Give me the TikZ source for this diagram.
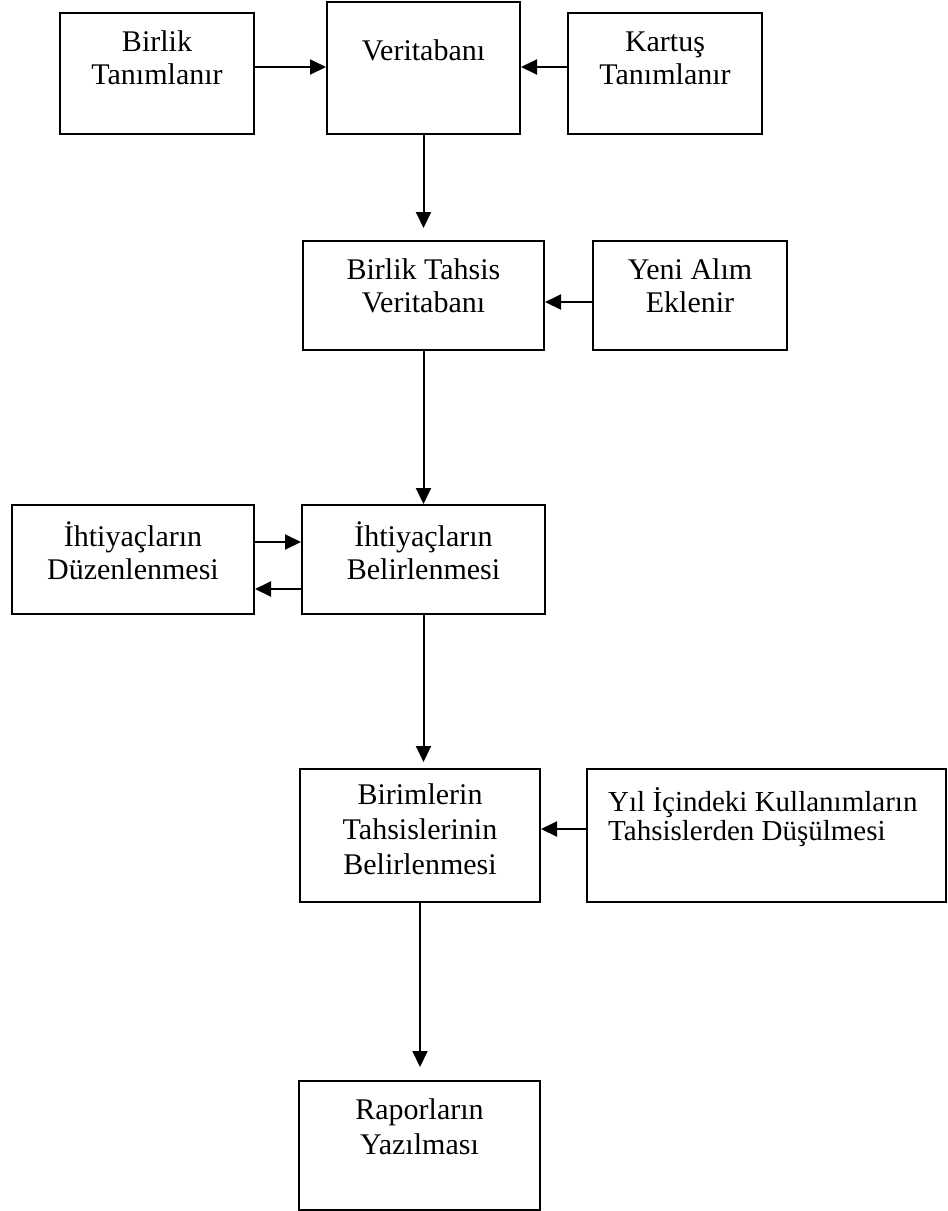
\documentclass[tikz,border=0pt]{standalone}
\usepackage{fontspec}
\setmainfont{Liberation Serif}
\usetikzlibrary{arrows.meta,calc}
\begin{document}
\begin{tikzpicture}[x=1pt,y=-1pt,
  box/.style={draw, line width=2pt, inner sep=0pt},
  lbl/.style={font=\fontsize{30}{33}\selectfont, align=center, inner sep=0pt},
  arr/.style={line width=2pt, -{Triangle[length=16pt,width=15pt]}}]
\useasboundingbox (0,0) rectangle (948,1211);
% boxes
\node[box, minimum width=194pt, minimum height=121pt] (b1) at (157,73.5) {};
\node[box, minimum width=193pt, minimum height=132pt] (b2) at (423.5,68) {};
\node[box, minimum width=194pt, minimum height=121pt] (b3) at (665,73.5) {};
\node[box, minimum width=241pt, minimum height=109pt] (b4) at (423.5,295.5) {};
\node[box, minimum width=194pt, minimum height=109pt] (b5) at (690,295.5) {};
\node[box, minimum width=242pt, minimum height=109pt] (b6) at (133,559.5) {};
\node[box, minimum width=243pt, minimum height=109pt] (b7) at (423.5,559.5) {};
\node[box, minimum width=240pt, minimum height=133pt] (b8) at (420,835.5) {};
\node[box, minimum width=359pt, minimum height=133pt] (b9) at (766.5,835.5) {};
\node[box, minimum width=241pt, minimum height=129pt] (b10) at (419.5,1145.5) {};
% texts
\node[lbl] (t1) at (157,58) {Birlik\\Tanımlanır};
\node[lbl] (t2) at (423.5,50) {Veritabanı};
\node[lbl] (t3) at (665,58) {Kartuş\\Tanımlanır};
\node[lbl] (t4) at (423.5,286) {Birlik Tahsis\\Veritabanı};
\node[lbl] (t5) at (690,286) {Yeni Alım\\Eklenir};
\node[lbl] (t6) at (133,551) {İhtiyaçların\\Düzenlenmesi};
\node[lbl] (t7) at (423.5,551) {İhtiyaçların\\Belirlenmesi};
\node[lbl, font=\fontsize{30}{35}\selectfont] (t8) at (420,829) {Birimlerin\\Tahsislerinin\\Belirlenmesi};
\node[lbl, font=\fontsize{29}{29}\selectfont, align=left, anchor=west] (t9) at (608,817) {Yıl İçindeki Kullanımların\\Tahsislerden Düşülmesi};
\node[lbl, font=\fontsize{30}{35}\selectfont] (t10) at (419.5,1127) {Raporların\\Yazılması};
% arrows
\draw[arr] ($(b1.east)+(0,-6.5)$) -- ($(b2.west)+(0,-1)$);
\draw[arr] ($(b3.west)+(0,-6.5)$) -- ($(b2.east)+(0,-1)$);
\draw[arr] (b2.south) -- ($(b4.north)+(0,-12)$);
\draw[arr] ($(b5.west)+(0,6.5)$) -- ($(b4.east)+(0,6.5)$);
\draw[arr] (b4.south) -- (b7.north);
\draw[arr] ($(b6.east)+(0,-17.5)$) -- ($(b7.west)+(0,-17.5)$);
\draw[arr] ($(b7.west)+(0,29.5)$) -- ($(b6.east)+(0,29.5)$);
\draw[arr] (b7.south) -- ($(b7.south |- b8.north)+(0,-6)$);
\draw[arr] ($(b9.west)+(0,-6.5)$) -- ($(b8.east)+(0,-6.5)$);
\draw[arr] (b8.south) -- ($(b8.south |- b10.north)+(0,-13)$);
\end{tikzpicture}
\end{document}
